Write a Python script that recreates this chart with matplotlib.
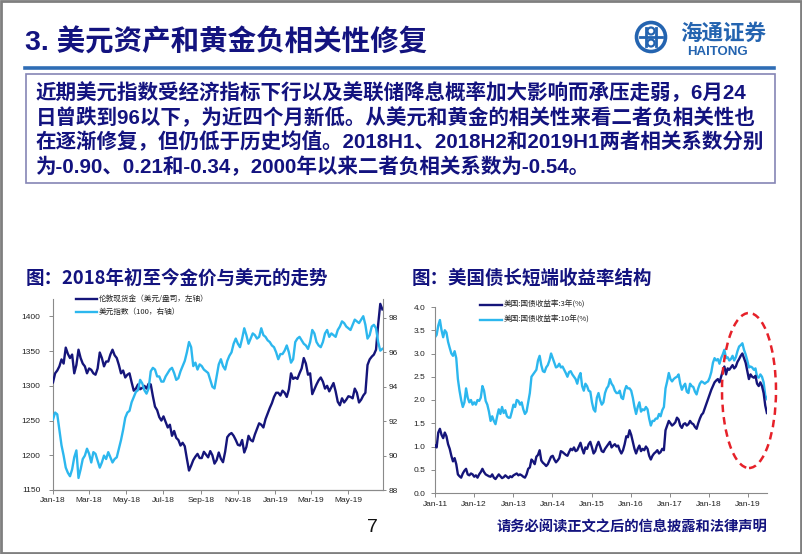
import matplotlib
matplotlib.use('Agg')
import matplotlib.pyplot as plt
import matplotlib.dates as mdates
from matplotlib.patches import Rectangle, Ellipse, Circle
from matplotlib.lines import Line2D
from matplotlib.transforms import IdentityTransform
import pandas as pd

plt.rcParams['font.family'] = ['Noto Sans CJK SC', 'DejaVu Sans']

# ---------------- data ----------------
title_text = '3. 美元资产和黄金负相关性修复'
body_lines = [
    '近期美元指数受经济指标下行以及美联储降息概率加大影响而承压走弱，6月24',
    '日曾跌到96以下，为近四个月新低。从美元和黄金的相关性来看二者负相关性也',
    '在逐渐修复，但仍低于历史均值。2018H1、2018H2和2019H1两者相关系数分别',
    '为-0.90、0.21和-0.34，2000年以来二者负相关系数为-0.54。',
]
left_title = '图：2018年初至今金价与美元的走势'
right_title = '图：美国债长短端收益率结构'
left_labels = ['伦敦现货金（美元/盎司，左轴）', '美元指数（100，右轴）']
right_labels = ['美国:国债收益率:3年(%)', '美国:国债收益率:10年(%)']
footer_text = '请务必阅读正文之后的信息披露和法律声明'
page_no = '7'

# twice-weekly, Jan-2018 .. Jun-2019
gold = [
    1305, 1318, 1322, 1328, 1338, 1332, 1355, 1346, 1340, 1345,
    1318, 1330, 1352, 1340, 1332, 1328, 1318, 1325,
    1323, 1318, 1316, 1325, 1348, 1340, 1328, 1335,
    1335, 1345, 1352, 1344, 1340, 1330, 1318, 1322, 1312, 1316,
    1318, 1305, 1293, 1296, 1302, 1295, 1297, 1300,
    1296, 1303, 1302, 1285, 1270, 1265, 1255, 1250,
    1256, 1248, 1240, 1244, 1228, 1235, 1225, 1222, 1214, 1218,
    1213, 1195, 1178, 1185, 1193, 1198, 1202, 1196,
    1196, 1205, 1201, 1197, 1206, 1200, 1188, 1193,
    1204, 1195, 1190, 1205, 1226, 1230, 1232, 1228, 1222, 1215,
    1214, 1222, 1204, 1212, 1228, 1222, 1220, 1230,
    1238, 1246, 1244, 1240, 1252, 1260, 1268, 1275, 1284, 1290,
    1290, 1286, 1293, 1290, 1284, 1295, 1318, 1310,
    1312, 1310, 1318, 1325, 1340, 1332, 1316, 1318,
    1288, 1295, 1302, 1308, 1312, 1306, 1296, 1300,
    1292, 1298, 1304, 1292, 1277, 1272, 1282, 1276, 1280, 1285,
    1284, 1282, 1296, 1290, 1276, 1280, 1286, 1290,
    1330, 1338, 1342, 1345, 1352, 1388, 1418, 1410,
]
dxy = [
    92.1, 92.5, 92.4, 91.5, 90.6, 90.0, 89.3, 89.0, 88.8, 89.2,
    89.9, 90.3, 88.7, 89.2, 89.8, 90.0, 90.4, 90.1,
    89.6, 90.2, 90.1, 89.7, 89.3, 89.6, 90.0, 89.8,
    90.2, 89.9, 89.6, 89.8, 89.9, 90.4, 90.9, 91.5, 92.2, 92.5,
    92.6, 93.1, 93.4, 93.7, 93.8, 94.4, 94.2, 93.8,
    93.6, 93.9, 94.9, 95.1, 95.0, 94.6, 94.6, 94.3,
    94.3, 94.6, 94.8, 95.0, 95.1, 94.8, 94.4, 94.5, 94.9, 95.2,
    95.5, 96.0, 96.6, 96.3, 95.2, 95.4, 95.0, 95.3,
    95.2, 95.0, 94.9, 94.8, 94.4, 94.0, 93.9, 94.6,
    95.3, 95.6, 95.2, 95.0, 95.5, 95.8, 96.0, 96.5, 96.8, 96.5,
    96.3, 96.8, 97.4, 97.0, 96.5, 96.8, 97.1, 97.0,
    96.8, 96.9, 97.4, 97.0, 96.9, 96.7, 96.6, 96.4, 96.3, 96.0,
    95.6, 95.9, 95.9, 96.1, 96.4, 96.0, 95.4, 95.6,
    96.6, 96.8, 96.9, 96.7, 96.5, 96.4, 96.2, 96.6,
    97.3, 97.1, 96.6, 96.4, 96.3, 96.6, 97.1, 97.3,
    96.9, 97.1, 97.0, 96.9, 97.3, 97.5, 97.8, 97.7, 97.5, 97.4,
    97.3, 97.6, 97.9, 97.8, 97.7, 97.9, 98.1, 97.6,
    96.8, 97.0, 97.5, 97.6, 97.4, 96.6, 96.1, 96.2,
]

# semi-monthly, Jan-2011 .. Jun-2019
y3 = [
    1.02, 0.98, 1.30, 1.38, 1.25, 1.18, 1.30, 1.22, 1.05, 0.95, 0.80, 0.68,
    0.75, 0.62, 0.40, 0.36, 0.33, 0.42, 0.48, 0.52, 0.40, 0.38, 0.42, 0.40,
    0.35, 0.38, 0.33, 0.40, 0.45, 0.52, 0.45, 0.40, 0.38, 0.36, 0.35, 0.40,
    0.33, 0.30, 0.35, 0.40, 0.36, 0.32, 0.34, 0.38, 0.35, 0.32, 0.36, 0.34,
    0.38, 0.40, 0.42, 0.38, 0.40, 0.38, 0.35, 0.33, 0.40, 0.52, 0.55, 0.72,
    0.68, 0.62, 0.78, 0.82, 0.92, 0.70, 0.65, 0.62, 0.58, 0.62, 0.70, 0.78,
    0.80, 0.72, 0.66, 0.70, 0.75, 0.90, 0.88, 0.85, 0.82, 0.80, 0.88, 0.95,
    0.92, 0.98, 0.90, 0.92, 1.00, 1.08, 0.95, 0.85, 0.98, 0.95, 1.05, 1.10,
    0.98, 0.85, 0.90, 1.02, 1.10, 1.00, 0.90, 0.88, 0.95, 1.00, 1.05, 1.10,
    0.98, 1.02, 1.05, 1.00, 1.02, 0.92, 0.85, 0.92, 1.05, 1.22, 1.20, 1.35,
    1.25, 1.10, 0.95, 0.85, 0.95, 1.02, 0.90, 0.95, 0.92, 1.00, 0.95, 0.80,
    0.72, 0.80, 0.85, 0.88, 0.92, 0.85, 0.88, 0.95, 0.92, 1.35, 1.45, 1.55,
    1.50, 1.45, 1.48, 1.52, 1.62, 1.58, 1.45, 1.40, 1.48, 1.50, 1.45, 1.48,
    1.55, 1.50, 1.48, 1.42, 1.38, 1.50, 1.60, 1.68, 1.72, 1.82, 1.92, 2.02,
    2.12, 2.22, 2.30, 2.38, 2.42, 2.45, 2.38, 2.50, 2.62, 2.72, 2.55, 2.68,
    2.65, 2.70, 2.75, 2.68, 2.72, 2.82, 2.88, 2.95, 3.00, 2.90, 2.80, 2.62,
    2.45, 2.55, 2.50, 2.48, 2.52, 2.35, 2.30, 2.38, 2.30, 2.15, 1.88, 1.72,
]
y10 = [
    3.35, 3.40, 3.60, 3.72, 3.50, 3.35, 3.50, 3.45, 3.25, 3.12, 3.00, 2.95,
    3.05, 2.90, 2.45, 2.20, 2.00, 1.85, 1.95, 2.25, 2.05, 1.95, 2.00, 1.90,
    1.95, 1.90, 2.00, 1.98, 2.05, 2.30, 2.20, 1.98, 1.90, 1.75, 1.55, 1.65,
    1.55, 1.48, 1.65, 1.80, 1.70, 1.85, 1.72, 1.78, 1.65, 1.62, 1.62, 1.75,
    1.90, 1.85, 2.00, 1.98, 1.90, 1.95, 1.80, 1.70, 1.75, 1.95, 2.15, 2.50,
    2.55, 2.60, 2.65, 2.85, 2.95, 2.75, 2.62, 2.60, 2.70, 2.75, 2.85, 3.00,
    2.90, 2.80, 2.70, 2.72, 2.78, 2.70, 2.72, 2.65, 2.58, 2.50, 2.60, 2.62,
    2.55, 2.50, 2.45, 2.35, 2.50, 2.58, 2.30, 2.20, 2.35, 2.30, 2.20, 2.18,
    1.95, 1.80, 1.75, 2.05, 2.15, 2.00, 1.90, 1.95, 2.15, 2.25, 2.30, 2.45,
    2.35, 2.30, 2.20, 2.15, 2.15, 2.20, 2.05, 2.02, 2.20, 2.30, 2.25, 2.25,
    2.20, 2.05, 1.85, 1.70, 1.85, 1.95, 1.75, 1.80, 1.78, 1.85, 1.80, 1.60,
    1.45, 1.55, 1.55, 1.60, 1.60, 1.70, 1.65, 1.78, 1.85, 2.25, 2.40, 2.58,
    2.45, 2.40, 2.45, 2.48, 2.50, 2.55, 2.35, 2.22, 2.30, 2.35, 2.18, 2.15,
    2.35, 2.30, 2.28, 2.18, 2.12, 2.25, 2.35, 2.40, 2.38, 2.35, 2.38, 2.40,
    2.48, 2.60, 2.80, 2.90, 2.85, 2.88, 2.78, 2.90, 2.98, 3.08, 2.90, 2.92,
    2.85, 2.88, 2.95, 2.85, 2.92, 3.05, 3.15, 3.18, 3.22, 3.08, 2.98, 2.85,
    2.70, 2.72, 2.70, 2.65, 2.68, 2.50, 2.48, 2.55, 2.50, 2.38, 2.10, 2.02,
]

dates_l = pd.date_range('2018-01-01', '2019-06-26', periods=len(gold))
dates_r = pd.date_range('2011-01-01', '2019-06-25', periods=len(y3))

# ---------------- style ----------------
NAVY_TXT = '#13137f'
DARK = '#15157a'
CYAN = '#2cb7ee'
GRAY = '#8a8a8a'
LOGO = '#2464b0'
RED = '#e62129'
MIX = ['Liberation Sans', 'Noto Sans CJK SC', 'DejaVu Sans']

W, H = 802, 554
fig = plt.figure(figsize=(8.02, 5.54), dpi=100)


def fx(px):
    return px / W


def fy(py):
    return 1 - py / H


# slide border
fig.add_artist(Rectangle((0.0015, 0.002), 0.997, 0.996, transform=fig.transFigure,
                         fill=False, ec='#7f7f7f', lw=2))

# title
fig.text(fx(25), fy(42), title_text, fontsize=20.5, fontweight='bold',
         color=NAVY_TXT, ha='left', va='center', family=MIX)
fig.add_artist(Line2D([fx(25), fx(774)], [fy(68), fy(68)], color='#2f6db5', lw=2.6,
                      transform=fig.transFigure))

# logo
idt = IdentityTransform()
fig.add_artist(Circle((651, H - 37), 14.5, transform=idt, fill=False, ec=LOGO, lw=2.6))
fig.add_artist(Line2D([640, 662], [H - 37, H - 37], transform=idt, color=LOGO, lw=2))
fig.add_artist(Line2D([646, 646], [H - 28, H - 46], transform=idt, color=LOGO, lw=2))
fig.add_artist(Line2D([656, 656], [H - 28, H - 46], transform=idt, color=LOGO, lw=2))
fig.add_artist(Circle((651, H - 31), 3.5, transform=idt, fill=False, ec=LOGO, lw=1.6))
fig.add_artist(Circle((651, H - 43), 3.5, transform=idt, fill=False, ec=LOGO, lw=1.6))
fig.text(fx(680), fy(33), '海通证券', fontsize=15.5, fontweight='bold', color=LOGO,
         ha='left', va='center', style='italic')
fig.text(fx(718), fy(52), 'HAITONG', fontsize=9.5, fontweight='bold', color=LOGO,
         ha='center', va='center', family=['Liberation Sans', 'DejaVu Sans'])

# text box
fig.add_artist(Rectangle((fx(26), fy(183)), fx(775) - fx(26), (183 - 74) / H,
                         transform=fig.transFigure, fill=False, ec='#8585b5', lw=1.2))
for yy, line in zip([93, 118, 142, 167], body_lines):
    fig.text(fx(36), fy(yy), line, fontsize=14.8, fontweight='bold', color=NAVY_TXT,
             ha='left', va='center', family=MIX)

# chart titles
fig.text(fx(26), fy(278), left_title, fontsize=13.3, fontweight='bold', color=NAVY_TXT,
         ha='left', va='center')
fig.text(fx(412), fy(278), right_title, fontsize=13.3, fontweight='bold', color=NAVY_TXT,
         ha='left', va='center')

TICKFONT = ['Liberation Sans Narrow', 'Liberation Sans', 'DejaVu Sans']

# ---------------- left chart ----------------
ax1 = fig.add_axes([fx(53), fy(490), (383 - 53) / W, (490 - 299) / H])
ax1.plot(dates_l, gold, color=DARK, lw=1.7, zorder=3)
ax1.set_ylim(1150, 1425)
ax1.set_yticks([1150, 1200, 1250, 1300, 1350, 1400])
ax1.set_xlim(pd.Timestamp('2018-01-01'), pd.Timestamp('2019-06-27'))
ax1.xaxis.set_major_locator(mdates.MonthLocator(bymonth=[1, 3, 5, 7, 9, 11]))
ax1.xaxis.set_major_formatter(mdates.DateFormatter('%b-%y'))
ax1b = ax1.twinx()
ax1b.plot(dates_l, dxy, color=CYAN, lw=1.7)
ax1b.set_ylim(88, 99.1)
ax1b.set_yticks([88, 90, 92, 94, 96, 98])
ax1b.set_xlim(pd.Timestamp('2018-01-01'), pd.Timestamp('2019-06-27'))

for a in (ax1, ax1b):
    a.spines['top'].set_visible(False)
    for s in a.spines.values():
        s.set_color(GRAY)
        s.set_linewidth(0.8)
    a.patch.set_visible(False)
ax1b.spines['left'].set_visible(False)
ax1.spines['right'].set_visible(False)
ax1.tick_params(axis='y', length=3, width=0.7, color=GRAY, labelsize=6, pad=6, labelcolor='#222222')
ax1.tick_params(axis='x', length=3, width=0.7, color=GRAY, labelsize=6, pad=2, labelcolor='#222222')
ax1b.tick_params(axis='y', length=2, width=0.7, color=GRAY, labelsize=6, pad=2, labelcolor='#222222')
for lab in ax1.get_xticklabels() + ax1.get_yticklabels() + ax1b.get_yticklabels():
    lab.set_family(TICKFONT)

# left legend
for yy, lab, col in zip([299, 312], left_labels, [DARK, CYAN]):
    fig.add_artist(Line2D([fx(76), fx(97)], [fy(yy), fy(yy)], color=col, lw=1.7,
                          transform=fig.transFigure))
    fig.text(fx(99), fy(yy), lab, fontsize=5.5, color='#222222', ha='left', va='center')

# ---------------- right chart ----------------
ax2 = fig.add_axes([fx(435), fy(493), (767 - 435) / W, (493 - 307) / H])
ax2.plot(dates_r, y3, color=DARK, lw=1.7, zorder=3)
ax2.plot(dates_r, y10, color=CYAN, lw=1.7, zorder=2)
ax2.set_ylim(0, 4.0)
ax2.set_yticks([0.0, 0.5, 1.0, 1.5, 2.0, 2.5, 3.0, 3.5, 4.0])
ax2.yaxis.set_major_formatter(matplotlib.ticker.FormatStrFormatter('%.1f'))
ax2.set_xlim(pd.Timestamp('2011-01-01'), pd.Timestamp('2019-06-26'))
ax2.xaxis.set_major_locator(mdates.YearLocator())
ax2.xaxis.set_major_formatter(mdates.DateFormatter('%b-%y'))
ax2.spines['top'].set_visible(False)
ax2.spines['right'].set_visible(False)
for s in ax2.spines.values():
    s.set_color(GRAY)
    s.set_linewidth(0.8)
ax2.tick_params(axis='y', length=3, width=0.7, color=GRAY, labelsize=6, pad=4, labelcolor='#222222')
ax2.tick_params(axis='x', length=3, width=0.7, color=GRAY, labelsize=6, pad=3, labelcolor='#222222')
for lab in ax2.get_xticklabels() + ax2.get_yticklabels():
    lab.set_family(TICKFONT)

for yy, lab, col in zip([305, 320], right_labels, [DARK, CYAN]):
    fig.add_artist(Line2D([fx(480), fx(502)], [fy(yy), fy(yy)], color=col, lw=1.7,
                          transform=fig.transFigure))
    fig.text(fx(504), fy(yy), lab, fontsize=5.5, color='#222222', ha='left', va='center')

# red dashed ellipse
fig.add_artist(Ellipse((749, H - 390.5), 54, 155, transform=idt, fill=False,
                       ec=RED, lw=1.8, ls=(0, (3, 2))))

# footer
fig.text(fx(372), fy(527), page_no, fontsize=14, color='#111111', ha='center', va='center',
         family=['Liberation Sans', 'DejaVu Sans'])
fig.text(fx(767), fy(527), footer_text, fontsize=10.3, fontweight='bold', color=NAVY_TXT,
         ha='right', va='center')

fig.savefig('out.png', dpi=100)
